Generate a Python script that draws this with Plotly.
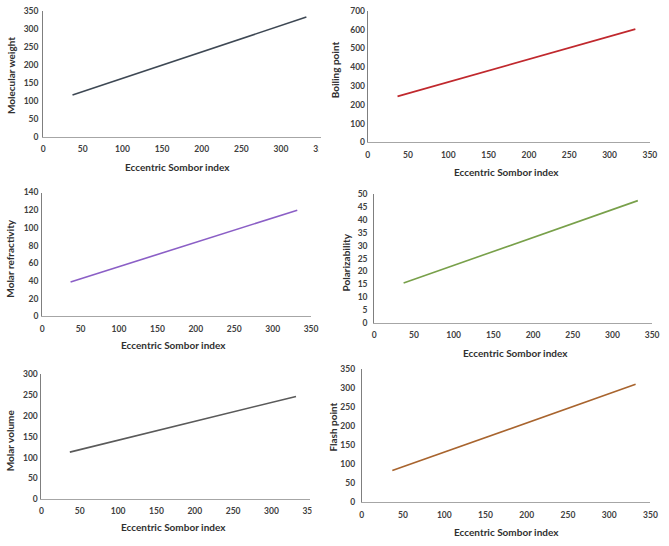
import plotly.graph_objects as go

W, H = 669, 546

# Data
esi = [37, 150, 250, 332]                       # Eccentric Sombor index
molecular_weight = [117, 199, 273, 333]
boiling_point = [245, 382, 504, 603]
molar_refractivity = [39, 70, 98, 120]
polarizability = [15.5, 27.7, 38.5, 47.6]
molar_volume = [113, 164, 210, 247]
flash_point = [84, 171, 248, 311]

x_ticks = [0, 50, 100, 150, 200, 250, 300, 350]

panels = [
    # name, values, color, y max, y dtick, plot box px (x0, x1, ytop, ybottom), ytitle pos, xtitle pos, y label standoff
    ("Molecular weight", molecular_weight, "#3E4854", 350, 50, (41.7, 323, 6, 134.7), (8.5, 72), (178, 165), 2),
    ("Boiling point", boiling_point, "#C0282D", 700, 100, (370.7, 656.7, 6, 140), (337, 66), (511, 170), 0),
    ("Molar refractivity", molar_refractivity, "#8B5FC6", 140, 20, (40.7, 313.3, 191, 317.3), (8.5, 258), (174, 346), 1),
    ("Polarizability", polarizability, "#78A04A", 50, 5, (377.3, 659, 193, 323.7), (349, 262), (521, 355), 4),
    ("Molar volume", molar_volume, "#5A5A5A", 300, 50, (40, 312, 376.3, 503.3), (8.5, 443), (174, 532), 1),
    ("Flash point", flash_point, "#A8642E", 350, 50, (364.7, 657.3, 371.3, 506.7), (336, 430), (511, 537), 4),
]

tick_font = dict(family="Lato", size=8.5, color="#404040", weight="bold")
title_font = dict(family="Lato", size=10, color="#303030", weight="bold")

fig = go.Figure()
layout = dict(
    width=W, height=H, margin=dict(l=0, r=0, t=0, b=0),
    paper_bgcolor="white", plot_bgcolor="white", showlegend=False,
)
annotations = []
shapes = []

for i, (name, vals, color, ymax, ydt, box, ytp, xtp, ystand) in enumerate(panels):
    n = "" if i == 0 else str(i + 1)
    x0, x1, yt, yb = box
    fig.add_trace(go.Scatter(
        x=esi, y=vals, mode="lines", line=dict(color=color, width=1.6),
        xaxis="x" + n, yaxis="y" + n, name=name,
    ))
    layout["xaxis" + n] = dict(
        domain=[x0 / W, x1 / W], anchor="y" + n, range=[0, 350],
        tickvals=x_ticks, showgrid=False, zeroline=False,
        showline=True, linecolor="#A6A6A6", linewidth=1,
        ticks="", tickfont=tick_font, ticklabelstandoff=4, fixedrange=True,
    )
    layout["yaxis" + n] = dict(
        domain=[1 - yb / H, 1 - yt / H], anchor="x" + n, range=[0, ymax],
        dtick=ydt, showgrid=False, zeroline=False,
        showline=True, linecolor="#7F7F7F", linewidth=1,
        ticks="", tickfont=tick_font, ticklabelstandoff=ystand, fixedrange=True,
    )
    annotations.append(dict(
        text=name, x=ytp[0] / W, y=1 - ytp[1] / H, xref="paper", yref="paper",
        textangle=-90, showarrow=False, font=title_font, xanchor="center", yanchor="middle",
    ))
    annotations.append(dict(
        text="Eccentric Sombor index", x=xtp[0] / W, y=1 - xtp[1] / H, xref="paper", yref="paper",
        showarrow=False, font=title_font, xanchor="center", yanchor="middle",
    ))

# cropped edges of the original panels (last x tick partly cut)
for (cx0, cx1, cy0, cy1) in [(321, 332, 137, 156), (314, 330, 506, 522)]:
    shapes.append(dict(type="rect", xref="paper", yref="paper",
                       x0=cx0 / W, x1=cx1 / W, y0=1 - cy1 / H, y1=1 - cy0 / H,
                       fillcolor="white", line=dict(width=0), layer="above"))

layout["annotations"] = annotations
layout["shapes"] = shapes
fig.update_layout(**layout)
fig.write_html("out.html")
